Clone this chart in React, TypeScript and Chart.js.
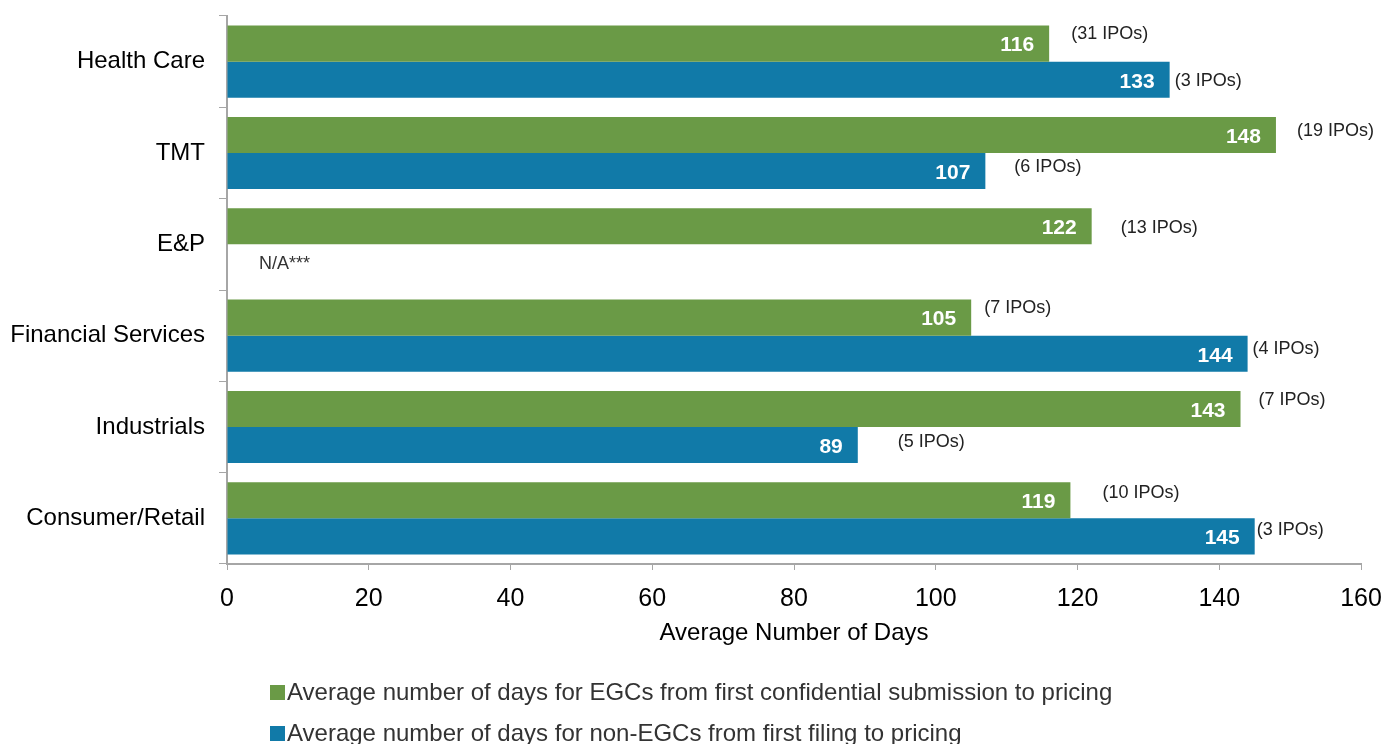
import React, { useEffect, useRef } from "react";
import { Chart, registerables } from "chart.js";

Chart.register(...registerables);

const categories = ["Health Care", "TMT", "E&P", "Financial Services", "Industrials", "Consumer/Retail"];
const egcDays = [116, 148, 122, 105, 143, 119];
const nonEgcDays: (number | null)[] = [133, 107, null, 144, 89, 145];
const egcIpoCounts = [31, 19, 13, 7, 7, 10];
const nonEgcIpoCounts: (number | null)[] = [3, 6, null, 4, 5, 3];
const xTicks = [0, 20, 40, 60, 80, 100, 120, 140, 160];
const seriesNames = [
  "Average number of days for EGCs from first confidential submission to pricing",
  "Average number of days for non-EGCs from first filing to pricing",
];
const missingLabel = "N/A***";
const xTitle = "Average Number of Days";

// annotation nudges (px) relative to bar end / bar centre
const egcNudge = [[22, -10], [21, -4], [29, 2], [13, -10], [18, -9], [32, -7]];
const nonEgcNudge = [[5, 1], [29, -4], [0, 0], [5, -5], [40, -3], [2, -6]];

const GREEN = "#6A9A46";
const BLUE = "#117AA8";
const FONT = "'Liberation Sans', Arial, sans-serif";

const zeroPad = (s: any) => {
  s.paddingTop = 0;
  s.paddingBottom = 0;
  s.paddingLeft = 0;
  s.paddingRight = 0;
};

const labelPlugin = {
  id: "barLabels",
  afterDatasetsDraw(chart: any) {
    const ctx = chart.ctx;
    const counts = [egcIpoCounts, nonEgcIpoCounts];
    const nudges = [egcNudge, nonEgcNudge];
    ctx.save();
    chart.data.datasets.forEach((ds: any, di: number) => {
      const meta = chart.getDatasetMeta(di);
      meta.data.forEach((el: any, i: number) => {
        const v = ds.data[i];
        if (v === null || v === undefined) {
          const x0 = chart.scales.x.getPixelForValue(0);
          ctx.font = `18px ${FONT}`;
          ctx.fillStyle = "#333333";
          ctx.textAlign = "left";
          ctx.textBaseline = "middle";
          ctx.fillText(missingLabel, x0 + 32, el.y + 2);
          return;
        }
        ctx.font = `bold 21px ${FONT}`;
        ctx.fillStyle = "#ffffff";
        ctx.textAlign = "right";
        ctx.textBaseline = "middle";
        ctx.fillText(String(v), el.x - 15, el.y + 2);
        const c = counts[di][i];
        if (c !== null && c !== undefined) {
          const [dx, dy] = nudges[di][i];
          ctx.font = `18px ${FONT}`;
          ctx.fillStyle = "#222222";
          ctx.textAlign = "left";
          ctx.fillText(`(${c} IPOs)`, el.x + dx, el.y + dy);
        }
      });
    });
    ctx.restore();
  },
  afterDraw(chart: any) {
    const ctx = chart.ctx;
    const colors = [GREEN, BLUE];
    const rows = [692, 733];
    ctx.save();
    ctx.font = `24px ${FONT}`;
    ctx.textAlign = "left";
    ctx.textBaseline = "middle";
    seriesNames.forEach((name, i) => {
      ctx.fillStyle = colors[i];
      ctx.fillRect(270, rows[i] - 7, 15, 15);
      ctx.fillStyle = "#333333";
      ctx.fillText(name, 287, rows[i] + 1);
    });
    ctx.restore();
  },
};

export default function App() {
  const ref = useRef<HTMLCanvasElement | null>(null);
  useEffect(() => {
    if (!ref.current) return;
    const chart = new Chart(ref.current, {
      type: "bar",
      data: {
        labels: categories,
        datasets: [
          { label: seriesNames[0], data: egcDays, backgroundColor: GREEN, categoryPercentage: 0.79, barPercentage: 1 },
          { label: seriesNames[1], data: nonEgcDays, backgroundColor: BLUE, categoryPercentage: 0.79, barPercentage: 1 },
        ],
      },
      options: {
        indexAxis: "y",
        animation: false,
        responsive: true,
        maintainAspectRatio: false,
        layout: { padding: { left: 0, right: 24, top: 16, bottom: 96 } },
        plugins: { legend: { display: false }, tooltip: { enabled: false } },
        scales: {
          x: {
            min: 0,
            max: 160,
            afterBuildTicks: (s: any) => { s.ticks = xTicks.map((v) => ({ value: v })); },
            afterFit: (s: any) => { s.height = 84; zeroPad(s); },
            grid: { drawOnChartArea: false, tickLength: 6, color: "#A6A6A6", tickColor: "#A6A6A6" },
            border: { color: "#A6A6A6", width: 2 },
            ticks: { color: "#000000", font: { family: FONT, size: 25 }, padding: 14 },
            title: { display: true, text: xTitle, color: "#000000", font: { family: FONT, size: 24 }, padding: { top: 0, bottom: 0 } },
          },
          y: {
            afterFit: (s: any) => { s.width = 227; zeroPad(s); },
            grid: { drawOnChartArea: false, tickLength: 8, offset: true, color: "#A6A6A6", tickColor: "#A6A6A6" },
            border: { color: "#A6A6A6", width: 2 },
            ticks: { color: "#000000", font: { family: FONT, size: 24 }, padding: 14 },
          },
        },
      },
      plugins: [labelPlugin],
    });
    return () => chart.destroy();
  }, []);
  return (
    <div style={{ position: "absolute", left: 0, top: 0, width: 1385, height: 744, background: "#fff" }}>
      <canvas ref={ref} />
    </div>
  );
}
